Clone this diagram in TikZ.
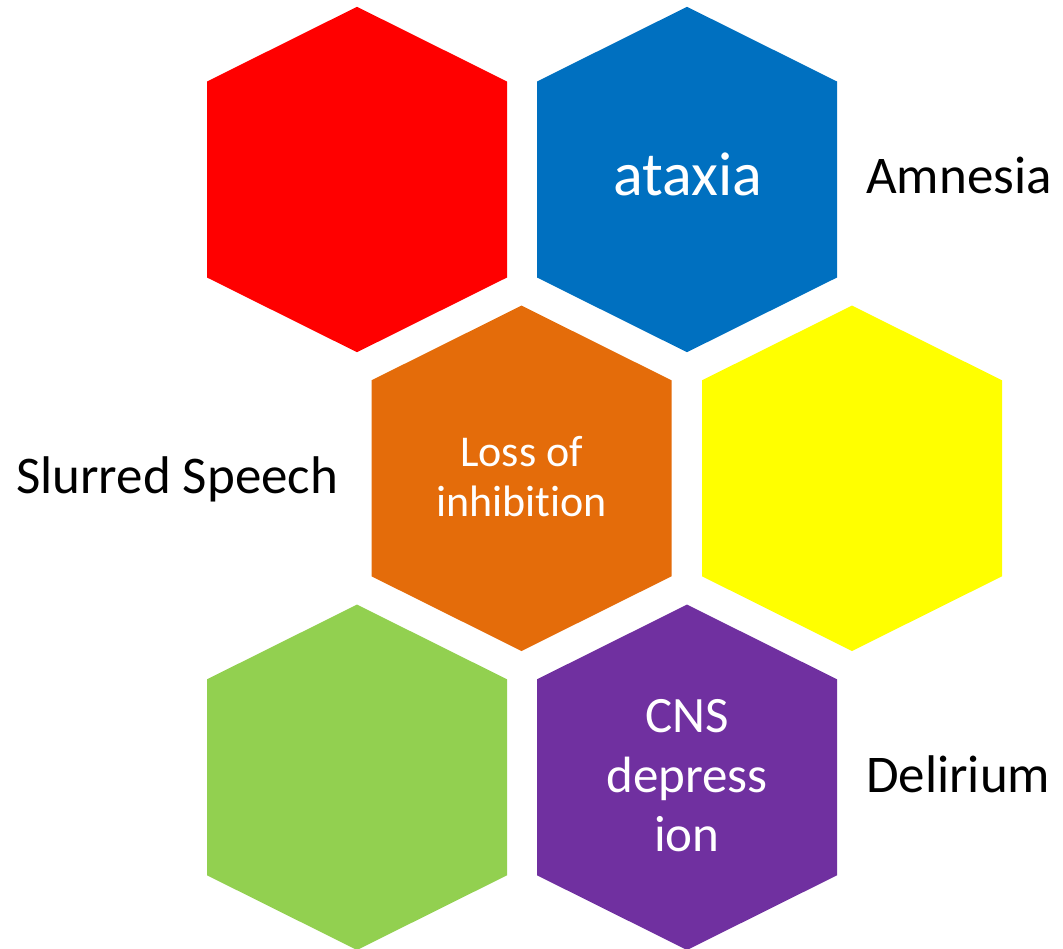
\documentclass[tikz,border=0pt]{standalone}
\usepackage{fontspec}
\setmainfont[Ligatures={NoCommon}]{Carlito}
\definecolor{hexred}{HTML}{FF0000}
\definecolor{hexblue}{HTML}{0070C0}
\definecolor{hexorange}{HTML}{E46C0A}
\definecolor{hexyellow}{HTML}{FFFF00}
\definecolor{hexgreen}{HTML}{92D050}
\definecolor{hexpurple}{HTML}{7030A0}
\begin{document}
\begin{tikzpicture}[x=1pt,y=-1pt,
  hexcell/.pic={\fill (0,-172.7) -- (150,-98) -- (150,98) -- (0,172.7) -- (-150,98) -- (-150,-98) -- cycle;},
  intext/.style={text=white, inner sep=0pt, align=center},
  outtext/.style={text=black, inner sep=0pt, anchor=base west, font=\fontsize{53}{60}\selectfont}]
\useasboundingbox (0,0) rectangle (1063,948);
\coordinate (red) at (357,179.5);
\coordinate (blue) at (687,179.5);
\coordinate (orange) at (521.5,478.3);
\coordinate (yellow) at (852,478.3);
\coordinate (green) at (357,777.3);
\coordinate (purple) at (687,777.3);
\pic[fill=hexred] at (red) {hexcell};
\pic[fill=hexblue] at (blue) {hexcell};
\pic[fill=hexorange] at (orange) {hexcell};
\pic[fill=hexyellow] at (yellow) {hexcell};
\pic[fill=hexgreen] at (green) {hexcell};
\pic[fill=hexpurple] at (purple) {hexcell};
\node[intext, anchor=base, font=\fontsize{62}{70}\selectfont] (ataxia) at (688,195) {ataxia};
\node[intext, font=\fontsize{44}{50}\selectfont] (loss) at (521.5,477) {Loss of\\inhibition};
\node[intext, font=\fontsize{51}{59.5}\selectfont] (cns) at (687,776) {CNS\\depress\\ion};
\node[outtext] (amnesia) at (866,193) {Amnesia};
\node[outtext] (slurred) at (16,493) {Slurred Speech};
\node[outtext] (delirium) at (866,792) {Delirium};
\end{tikzpicture}
\end{document}
